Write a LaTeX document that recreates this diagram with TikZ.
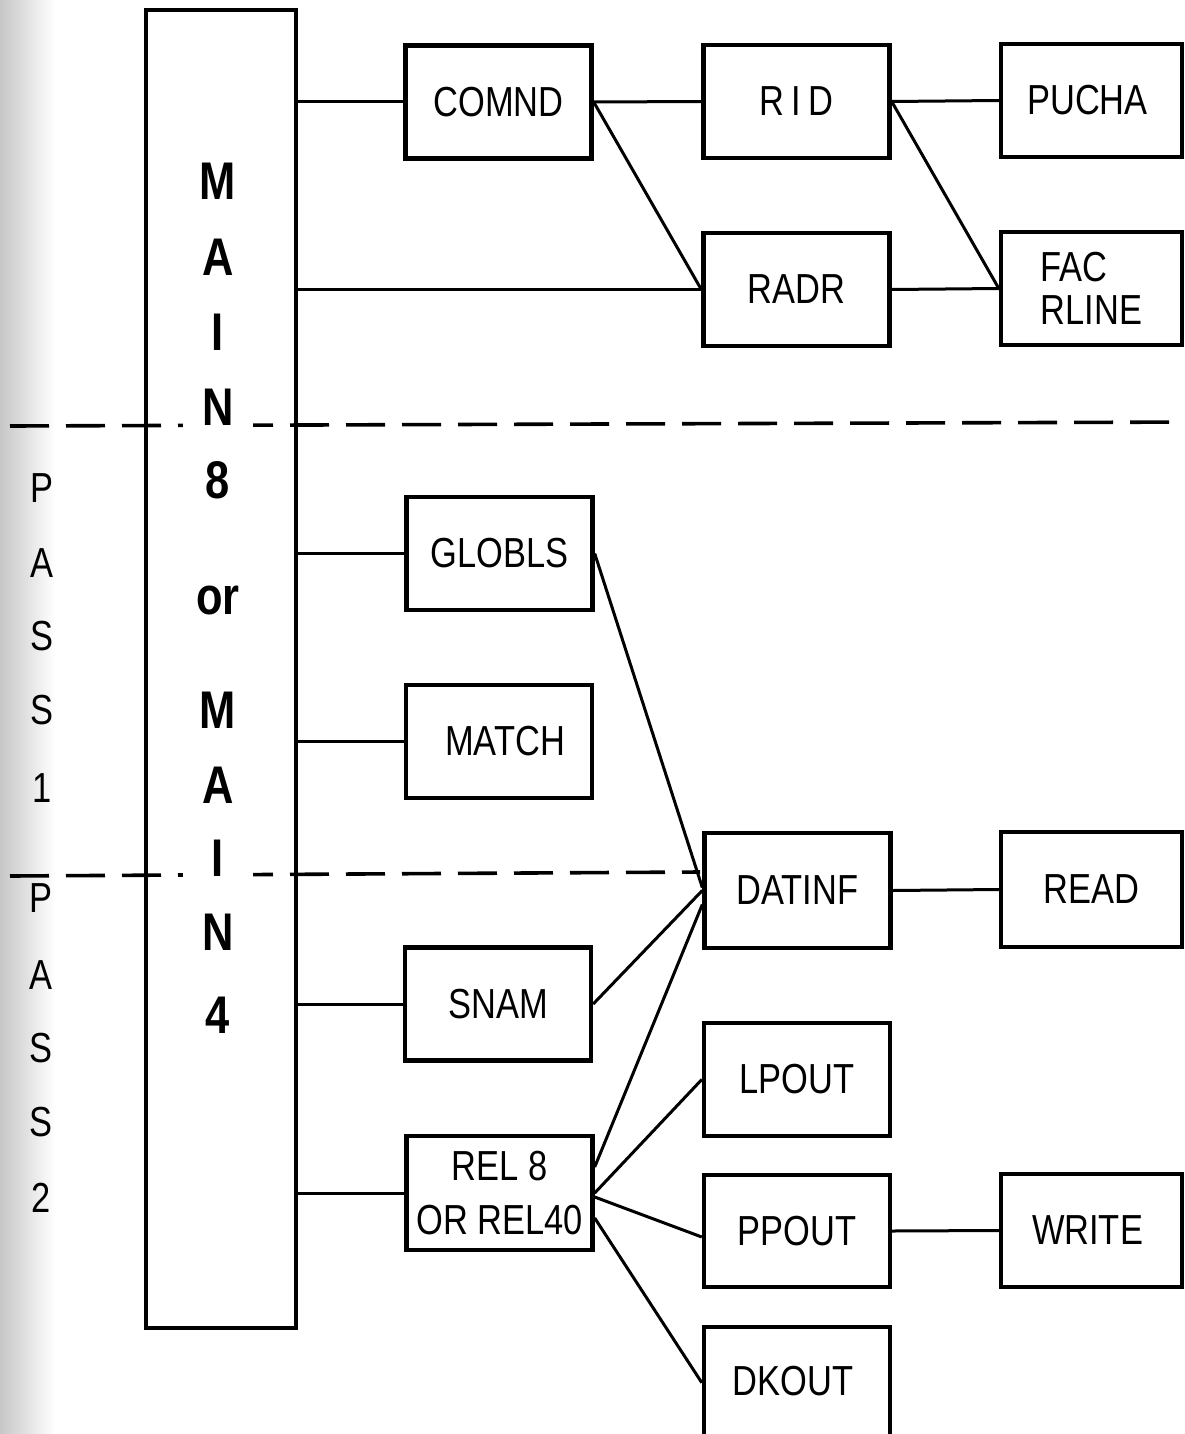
\documentclass[tikz,border=0pt]{standalone}
\usepackage{fontspec}
\setmainfont[FakeStretch=0.82]{Liberation Sans}
\begin{document}
\begin{tikzpicture}[x=1pt,y=-1pt,
  box/.style={draw, line width=4.4pt, minimum width=186pt, minimum height=113pt, inner sep=0pt,
    font=\fontsize{42}{43}\selectfont, align=center},
  conn/.style={line width=3pt},
  sep/.style={line width=3.6pt, dash pattern=on 39pt off 17pt},
  big/.style={font=\fontsize{53}{53}\selectfont\bfseries, inner sep=0pt, fill=white,
    minimum width=70pt, minimum height=44pt},
  pass/.style={font=\fontsize{42}{42}\selectfont, inner sep=0pt}]
\useasboundingbox (0,0) rectangle (1185,1434);
\clip (0,0) rectangle (1185,1434);
\shade[left color=black!22, right color=white] (0,0) rectangle (55,1434);

% main box
\node[draw, line width=4.4pt, minimum width=150pt, minimum height=1318pt, inner sep=0pt] (MAIN) at (221,669) {};

% boxes
\node[box] (COMND) at (498.5,102) {COMND};
\node[box] (RID) at (796.5,101.5) {R\,I\,D};
\node[box, minimum width=181pt] (PUCHA) at (1091.5,100.5) {PUCHA\hspace{8pt}};
\node[box] (RADR) at (796.5,289.5) {RADR};
\node[box, minimum width=181pt, align=left] (FAC) at (1091.5,288.5) {FAC\\RLINE};
\node[box] (GLOBLS) at (499.5,553.5) {GLOBLS};
\node[box] (MATCH) at (499,741.5) {\hspace{12pt}MATCH};
\node[box, minimum height=115pt] (DATINF) at (797.5,890.5) {DATINF};
\node[box, minimum width=181pt, minimum height=115pt] (READ) at (1091.5,889.5) {READ};
\node[box] (SNAM) at (498,1004) {SNAM};
\node[box, minimum height=114pt, font=\fontsize{42}{54}\selectfont] (REL) at (499.5,1193) {REL 8\\OR REL40};
\node[box] (LPOUT) at (797,1079.5) {LPOUT};
\node[box, minimum height=112pt] (PPOUT) at (797,1231) {PPOUT};
\node[box, minimum width=181pt] (WRITE) at (1091.5,1230.5) {WRITE\hspace{8pt}};
\node[box, minimum height=125pt, anchor=north] (DKOUT) at (797,1325) {};
\node[font=\fontsize{42}{43}\selectfont, inner sep=0pt] (DKOUTt) at (793,1381) {DKOUT};

% dashed separators
\coordinate (d1a) at (10,426);
\coordinate (d1b) at (1200,422);
\coordinate (d2a) at (10,876);
\coordinate (d2b) at (700,872);
\draw[sep] (d1a) -- (d1b);
\draw[sep] (d2a) -- (d2b);

% connectors
\draw[conn] (MAIN.east |- COMND.west) -- (COMND.west);
\draw[conn] (MAIN.east |- RADR.west) -- (RADR.west);
\draw[conn] (COMND.east) -- (RID.west);
\draw[conn] (COMND.east) -- (RADR.west);
\draw[conn] (RID.east) -- (PUCHA.west);
\draw[conn] (RID.east) -- (FAC.west);
\draw[conn] (RADR.east) -- (FAC.west);
\draw[conn] (MAIN.east |- GLOBLS.west) -- (GLOBLS.west);
\draw[conn] (MAIN.east |- MATCH.west) -- (MATCH.west);
\draw[conn] (MAIN.east |- SNAM.west) -- (SNAM.west);
\draw[conn] (MAIN.east |- REL.west) -- (REL.west);
\draw[conn] (GLOBLS.east) -- ([yshift=3pt]DATINF.west);
\draw[conn] (SNAM.east) -- (DATINF.west);
\draw[conn] ([yshift=26pt]REL.east) -- ([yshift=-14pt]DATINF.west);
\draw[conn] (REL.east) -- (LPOUT.west);
\draw[conn] ([yshift=-4pt]REL.east) -- ([yshift=-6pt]PPOUT.west);
\draw[conn] ([yshift=-25pt]REL.east) -- ([yshift=7pt]DKOUT.west);
\draw[conn] (DATINF.east) -- (READ.west);
\draw[conn] (PPOUT.east) -- (WRITE.west);

% MAIN 8 or MAIN 4 letters
\foreach \t/\yy [count=\i] in {M/181, A/257, I/332, N/407, 8/480, or/600, M/710, A/785, I/858, N/932, 4/1015}
  \node[big] (L\i) at (218,\yy) {\t};

% PASS labels
\foreach \t/\yy [count=\i] in {P/488, A/563, S/636, S/710, 1/788}
  \node[pass] (P\i) at (42,\yy) {\t};
\foreach \t/\yy [count=\i] in {P/898, A/975, S/1048, S/1122, 2/1198}
  \node[pass] (Q\i) at (41,\yy) {\t};
\end{tikzpicture}
\end{document}
